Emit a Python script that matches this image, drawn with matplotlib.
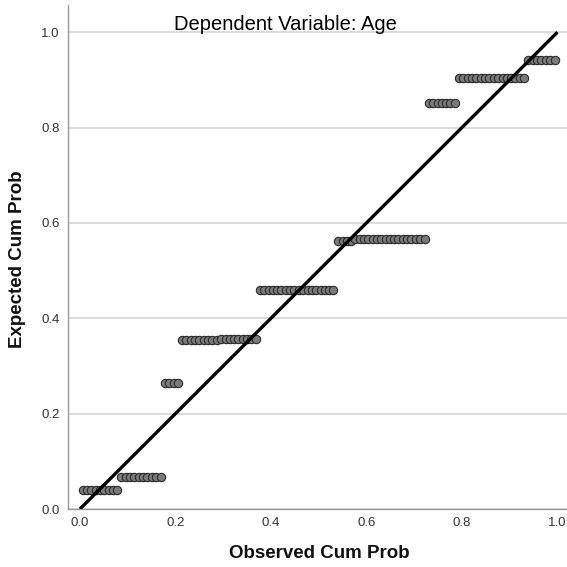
import matplotlib
matplotlib.use("Agg")
import matplotlib.pyplot as plt
import numpy as np

plt.rcParams['font.family'] = ['Liberation Sans', 'DejaVu Sans']

# P-P plot data: observed cumulative probability (x) and expected cumulative probability (y)
obs_g1 = [0.006, 0.015, 0.024, 0.033, 0.042, 0.051, 0.060, 0.069, 0.078]
obs_g2 = [0.087, 0.096, 0.105, 0.114, 0.123, 0.132, 0.141, 0.151, 0.160, 0.169]
obs_g3 = [0.178, 0.187, 0.196, 0.205]
obs_g4a = [0.214, 0.223, 0.232, 0.241, 0.250, 0.259, 0.268, 0.277, 0.286]
obs_g4b = [0.295, 0.305, 0.314, 0.323, 0.332, 0.341, 0.350, 0.359, 0.368]
obs_g5 = [0.377, 0.386, 0.395, 0.404, 0.413, 0.422, 0.431, 0.440, 0.449,
          0.459, 0.468, 0.477, 0.486, 0.495, 0.504, 0.513, 0.522, 0.531]
obs_g6a = [0.541, 0.550, 0.559, 0.568]
obs_g6b = [0.577, 0.586, 0.595, 0.604, 0.613, 0.622, 0.631, 0.640, 0.649,
           0.658, 0.667, 0.676, 0.685, 0.694, 0.703, 0.713, 0.722]
obs_g7 = [0.731, 0.740, 0.749, 0.758, 0.767, 0.776, 0.785]
obs_g8 = [0.794, 0.803, 0.812, 0.821, 0.830, 0.839, 0.848, 0.857, 0.867,
          0.876, 0.885, 0.894, 0.903, 0.912, 0.921, 0.930]
obs_g9 = [0.939, 0.948, 0.957, 0.966, 0.975, 0.984, 0.994]

observed_groups = [obs_g1, obs_g2, obs_g3, obs_g4a, obs_g4b, obs_g5,
                   obs_g6a, obs_g6b, obs_g7, obs_g8, obs_g9]
expected_levels = [0.040, 0.068, 0.264, 0.354, 0.357, 0.459,
                   0.562, 0.566, 0.851, 0.904, 0.942]

ticks = [0.0, 0.2, 0.4, 0.6, 0.8, 1.0]
tick_labels = ["0.0", "0.2", "0.4", "0.6", "0.8", "1.0"]

W = H = 567
fig = plt.figure(figsize=(W / 100, H / 100), dpi=100)
ax = fig.add_axes([68 / W, 58 / H, (W - 68) / W, (509 - 5) / H])

ax.set_xlim(-0.025, 1.02)
ax.set_ylim(0.0, 1.057)

for y in ticks:
    ax.axhline(y, color='#d4d4d4', lw=1.2, zorder=0)

for xs, ylev in zip(observed_groups, expected_levels):
    ax.plot(xs, [ylev] * len(xs), linestyle='none', marker='o',
            markersize=6.0, markerfacecolor='#7a7a7a',
            markeredgecolor='#2a2a2a', markeredgewidth=0.8, zorder=3)

ax.plot([0, 1], [0, 1], color='black', lw=2.4, zorder=4,
        solid_capstyle='butt')

ax.set_xticks(ticks)
ax.set_xticklabels(tick_labels)
ax.set_yticks(ticks)
ax.set_yticklabels(tick_labels)
ax.tick_params(axis='both', length=0, labelsize=9.5, colors='#333333', pad=6)

for s in ['top', 'right']:
    ax.spines[s].set_visible(False)
for s in ['left', 'bottom']:
    ax.spines[s].set_color('#9a9a9a')
    ax.spines[s].set_linewidth(1.0)

fig.text(285 / W, 1 - 25 / H, "Dependent Variable: Age", ha='center', va='center',
         fontsize=14.5, color='#000000')
fig.text(319 / W, 1 - 554 / H, "Observed Cum Prob", ha='center', va='center',
         fontsize=13.5, fontweight='bold', color='#111111')
fig.text(18 / W, 1 - 259 / H, "Expected Cum Prob", ha='center', va='center',
         rotation=90, fontsize=13.5, fontweight='bold', color='#111111')

fig.savefig("out.png", dpi=100)
